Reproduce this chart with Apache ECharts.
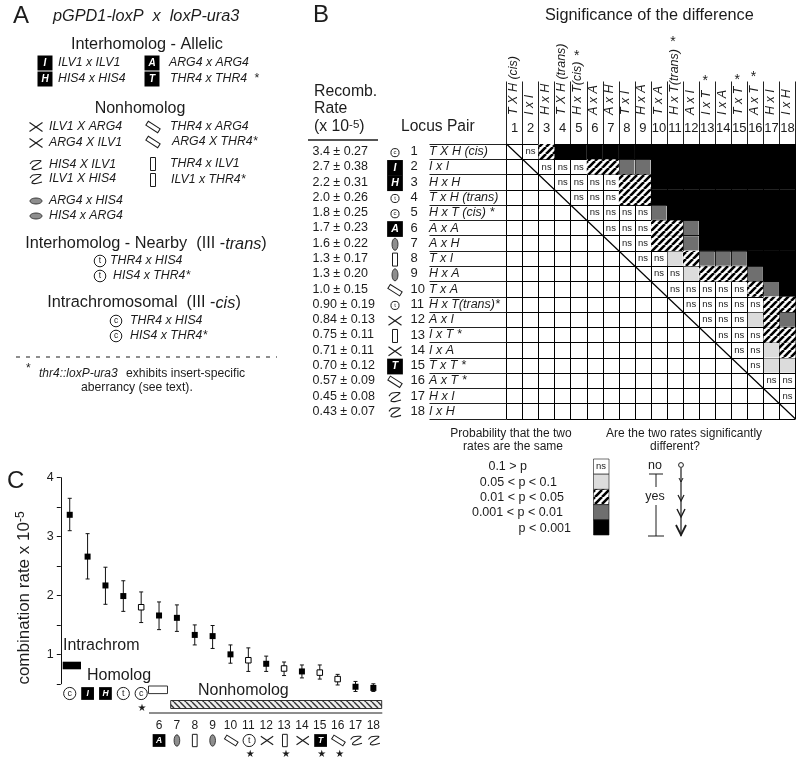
<!DOCTYPE html>
<html><head><meta charset="utf-8">
<style>html,body{margin:0;padding:0;background:#fff}#c{width:800px;height:762px}</style>
<script src="https://cdn.jsdelivr.net/npm/echarts@6/dist/echarts.min.js"></script>
</head><body><div id="c"></div>
<script>
// ---------- data ----------
const pairNumbers = ['1','2','3','4','5','6','7','8','9','10','11','12','13','14','15','16','17','18'];
const rowPairs = ['T X H (cis)','I x I','H x H','T x H (trans)','H x T (cis) *','A x A','A x H','T x I','H x A','T x A','H x T(trans)*','A x I','I x T *','I x A','T x T *','A x T *','H x I','I x H'];
const colPairs = ['T X H (cis)','I x I','H x H','T X H (trans)','H x T(cis)','A x A','A x H','T x I','H x A','T x A','H x T(trans)','A x I','I x T','I x A','T x T','A x T','H x I','I x H'];
const rateLabels = ['3.4 ± 0.27','2.7 ± 0.38','2.2 ± 0.31','2.0 ± 0.26','1.8 ± 0.25','1.7 ± 0.23','1.6 ± 0.22','1.3 ± 0.17','1.3 ± 0.20','1.0 ± 0.15','0.90 ± 0.19','0.84 ± 0.13','0.75 ± 0.11','0.71 ± 0.11','0.70 ± 0.12','0.57 ± 0.09','0.45 ± 0.08','0.43 ± 0.07'];
const pairIcons = ['c','I','H','t','c','A','ovalV','bar','ovalV','slant','t','x','bar','x','T','slant','z','z'];
const starredColumns = ['5','11','13','15','16'];
// upper triangle: n = ns, l = light, h = hatched, d = dark, b = black
const sigRows = [
 '.nhbbbbbbbbbbbbbbb',
 '..nnnhhddbbbbbbbbb',
 '...nnnnhhbbbbbbbbb',
 '....nnnhhbbbbbbbbb',
 '.....nnnndbbbbbbbb',
 '......nnnhhdbbbbbb',
 '.......nnhhdbbbbbb',
 '........nnlhdddbbb',
 '.........nnlhhhdbb',
 '..........nnnnnhdb',
 '...........nnnnnhh',
 '............nnnlhd',
 '.............nnnhh',
 '..............nnlh',
 '...............nll',
 '................nn',
 '.................n',
 '..................'
];
const rateMean = [3.37,2.66,2.17,1.99,1.80,1.66,1.62,1.33,1.31,1.00,0.90,0.84,0.76,0.71,0.69,0.58,0.45,0.43];
const rateHigh = [3.65,3.05,2.48,2.25,2.06,1.89,1.84,1.50,1.49,1.16,1.11,0.97,0.87,0.82,0.82,0.66,0.54,0.50];
const rateLow  = [3.10,2.28,1.85,1.73,1.54,1.42,1.39,1.16,1.10,0.85,0.71,0.71,0.64,0.60,0.58,0.48,0.37,0.37];
const openPoints = ['5','11','13','15','16'];
const unlabelledTicks = ['1','2','3','4','5'];
const lowerIcons = ['c','I','H','t','c','A','ovalV','bar','ovalV','slant','t','x','bar','x','T','slant','z','z'];
const starsBelow = ['11','13','15','16'];
const legendLabels = ['0.1 > p','0.05 < p < 0.1','0.01 < p < 0.05','0.001 < p < 0.01','p < 0.001'];
const legendLevels = ['n','l','h','d','b'];

// ---------- helpers ----------
const F='"Liberation Sans",Arial,sans-serif', INK='#1c1c1c';
function hatch(size,lw,color,back,dir){
  const c=document.createElement('canvas');c.width=c.height=size;const g=c.getContext('2d');
  g.fillStyle=back;g.fillRect(0,0,size,size);g.strokeStyle=color;g.lineWidth=lw;
  g.beginPath();
  for(let k=-1;k<=1;k++){
    if(dir>0){g.moveTo(k*size,size);g.lineTo(k*size+size,0);}
    else{g.moveTo(k*size,0);g.lineTo(k*size+size,size);}
  }
  g.stroke();return c;
}
const hatchFill={image:hatch(7,2.6,'#000','#fff',1),repeat:'repeat'};
const barFill={image:hatch(6,1.4,'#333','#eee',-1),repeat:'repeat'};
const levelFill={l:'#dcdcdc',h:hatchFill,d:'#6f6f6f',b:'#000'};

function T(text,x,y,size,o){o=o||{};
  return {type:'text',x,y,silent:true,z:o.z||20,rotation:o.rotation||0,style:Object.assign({text,fontSize:size,fontFamily:F,fontStyle:o.italic?'italic':'normal',fontWeight:o.bold?'bold':'normal',
    fill:o.fill||INK,align:o.align||'left',verticalAlign:'middle',textAlign:o.align||'left',textVerticalAlign:'middle'},o.style||{})};
}
function L(x1,y1,x2,y2,w,c,dash){return {type:'line',silent:true,z:15,shape:{x1,y1,x2,y2},style:{stroke:c||INK,lineWidth:w||1,lineDash:dash||null}};}
function icon(kind,x,y,s){s=s||1;let ch=[];
  const st={stroke:INK,lineWidth:1,fill:'#fff'};
  if(kind==='c'||kind==='t'){
    ch=[{type:'circle',shape:{cx:0,cy:0,r:5.8*s},style:st},T(kind,0,0,8.5*s,{align:'center',z:21})];
  }else if('IHAT'.includes(kind)){
    const w=15*s,h=15*s;
    ch=[{type:'rect',shape:{x:-w/2,y:-h/2,width:w,height:h},style:{fill:'#000'}},T(kind,0,0,10*s,{align:'center',italic:true,bold:true,fill:'#fff',z:21})];
  }else if(kind==='x'){
    ch=[{type:'line',shape:{x1:-6.5*s,y1:-4.5*s,x2:6.5*s,y2:4.5*s},style:{stroke:INK,lineWidth:1.1}},{type:'line',shape:{x1:-6.5*s,y1:4.5*s,x2:6.5*s,y2:-4.5*s},style:{stroke:INK,lineWidth:1.1}}];
  }else if(kind==='z'){
    ch=[{type:'polyline',shape:{points:[[-6*s,-1*s],[-3*s,-4*s],[5*s,-4*s],[-3*s,2*s],[-4*s,4*s],[0,4.5*s],[6*s,3*s]],smooth:0.3},style:{stroke:INK,lineWidth:1.1,fill:null}}];
  }else if(kind==='ovalH'||kind==='ovalV'){
    const h=kind==='ovalH';
    ch=[{type:'ellipse',shape:{cx:0,cy:0,rx:(h?6:3)*s,ry:(h?3:6)*s},style:{fill:'#8e8e8e',stroke:INK,lineWidth:.8}}];
  }else if(kind==='bar'){
    ch=[{type:'rect',shape:{x:-2.5*s,y:-6.5*s,width:5*s,height:13*s},style:st}];
  }else if(kind==='slant'){
    return {type:'group',x,y,rotation:-Math.PI*0.18,silent:true,z:20,children:[{type:'rect',shape:{x:-7*s,y:-2.3*s,width:14*s,height:4.6*s},style:st}]};
  }
  return {type:'group',x,y,silent:true,z:20,children:ch};
}

// ---------- geometry of the two charts ----------
const H={left:506.5,top:144,width:289,height:275};
const C={left:60.8,top:477.7,width:321.5,height:206.1};
const cw=H.width/18, rh=H.height/18;
const colX=i=>H.left+cw*(i+.5), rowY=i=>H.top+rh*(i+.5);
const ptX=i=>C.left+C.width/18*(i+.5);

// ---------- cells ----------
const cells=[];
sigRows.forEach((r,i)=>{for(let j=0;j<18;j++){const ch=r[j];if(ch&&ch!=='.')cells.push([j,i,ch]);}});

// ---------- decorative / text layer ----------
const g=[];
const BIG=16.3;
const rich={a:{fontSize:BIG,fontFamily:F,fill:INK},i:{fontSize:BIG,fontFamily:F,fontStyle:'italic',fill:INK}};
// Panel A
g.push(T('A',13,16,24));
g.push(T('pGPD1-loxP  x  loxP-ura3',53,16,16.3,{italic:true}));
g.push(T('Interhomolog - Allelic',147,45,BIG,{align:'center'}));
[['I',45,63,'ILV1 x ILV1',58],['H',45,79,'HIS4 x HIS4',58],['A',152,63,'ARG4 x ARG4',169],['T',152,79,'THR4 x THR4  *',170]].forEach(a=>{
  g.push(icon(a[0],a[1],a[2],1));g.push(T(a[3],a[4],a[2],12.3,{italic:true}));});
g.push(T('Nonhomolog',140,109,16,{align:'center'}));
[['x',36,127,'ILV1 X ARG4',49],['x',36,143,'ARG4 X ILV1',49],['slant',153,127,'THR4 x ARG4',170],['slant',153,142,'ARG4 X THR4*',172],
 ['z',36,165,'HIS4 X ILV1',49],['z',36,179,'ILV1 X HIS4',49],['bar',153,164,'THR4 x ILV1',170],['bar',153,180,'ILV1 x THR4*',171],
 ['ovalH',36,201,'ARG4 x HIS4',49],['ovalH',36,216,'HIS4 x ARG4',49],
 ['t',100,261,'THR4 x HIS4',110],['t',100,276,'HIS4 x THR4*',113],['c',116,321,'THR4 x HIS4',130],['c',116,336,'HIS4 x THR4*',130]].forEach(a=>{
  g.push(icon(a[0],a[1],a[2]));g.push(T(a[3],a[4],a[2],12.3,{italic:true}));});
g.push(T('{a|Interhomolog - Nearby  (III -}{i|trans}{a|)}',146,244,BIG,{align:'center',style:{rich}}));
g.push(T('{a|Intrachromosomal  (III -}{i|cis}{a|)}',144,303,BIG,{align:'center',style:{rich}}));
g.push(L(16,357,277,357,1,INK,[4,6]));
g.push(T('*',26,369,12));
g.push(T('thr4::loxP-ura3',39,374,12,{italic:true}));
g.push(T('exhibits insert-specific',126,374,12.2));
g.push(T('aberrancy (see text).',81,388,12.2));
// Panel B texts
g.push(T('B',313,15,24));
g.push(T('Significance of the difference',545,16,BIG));
g.push(T('Recomb.',314,92,15.8));
g.push(T('Rate',314,109,15.8));
g.push(T('{a|(x 10}{s|-5}{a|)}',314,127,15.8,{style:{rich:{a:{fontSize:15.8,fontFamily:F,fill:INK},s:{fontSize:11.5,fontFamily:F,fill:INK,verticalAlign:'top',lineHeight:16}}}}));
g.push(T('Locus Pair',401,127,15.6));
g.push(L(308,140,378,140,2,'#555'));
pairIcons.forEach((k,i)=>g.push(icon(k,395,rowY(i)+1,(k.length===1&&'IHAT'.includes(k))?1.05:(k==='c'||k==='t'?.7:1))));
colPairs.forEach((t,i)=>g.push(T(t,colX(i)-1,115,12.5,{italic:true,rotation:Math.PI/2})));
const starY={'5':56,'11':42,'13':81,'15':80,'16':77};
starredColumns.forEach(n=>{const i=pairNumbers.indexOf(n);g.push(T('*',colX(i)-2,starY[n],14,{align:'center'}));});
g.push(L(H.left,H.top,H.left+H.width,H.top+H.height,1.2,'#000'));
// Legend
g.push(T('Probability that the two',511,434,12,{align:'center'}));
g.push(T('rates are the same',513,447,12,{align:'center'}));
const legendRight=[527,557,564,563,571];
legendLabels.forEach((t,i)=>{
  const y=467+15.3*i;g.push(T(t,legendRight[i],y,12.5,{align:'right'}));
  const k=legendLevels[i];
  g.push({type:'rect',silent:true,z:14,shape:{x:593.5,y:459+15.2*i,width:15.5,height:15.2},style:{fill:k==='n'?'#fff':levelFill[k],stroke:'#111',lineWidth:.6}});
});
g.push(T('ns',601,466.5,9.5,{align:'center'}));
g.push(T('Are the two rates significantly',606,434,12));
g.push(T('different?',675,447,12,{align:'center'}));
g.push(T('no',655,466,12.5,{align:'center'}));
g.push(L(649,474,663,474));g.push(L(656,474,656,487));
g.push(T('yes',655,497,12.5,{align:'center'}));
g.push(L(656,505,656,536));g.push(L(648,536,664,536));
g.push({type:'circle',silent:true,z:15,shape:{cx:681,cy:465,r:2.4},style:{fill:'#fff',stroke:INK,lineWidth:1}});
g.push(L(681,468,681,536,1.2));
[[482,2,4,1],[501,3,6,1.2],[517,4,8,1.4],[535,5,10,1.8]].forEach(a=>{
  g.push({type:'polyline',silent:true,z:15,shape:{points:[[681-a[1],a[0]-a[2]],[681,a[0]],[681+a[1],a[0]-a[2]]]},style:{stroke:INK,lineWidth:a[3],fill:null}});});
// Panel C
g.push(T('C',7,481,24));
g.push(T('{a|combination rate x 10}{s|-5}',24,598,17,{rotation:Math.PI/2,align:'center',style:{rich:{a:{fontSize:17,fontFamily:F,fill:INK},s:{fontSize:12,fontFamily:F,fill:INK,verticalAlign:'top',lineHeight:18}}}}));
g.push(T('Intrachrom',63,646,16));
g.push({type:'rect',silent:true,z:15,shape:{x:62.7,y:661.7,width:18.3,height:7.6},style:{fill:'#000'}});
g.push(T('Homolog',87,676,16));
g.push({type:'rect',silent:true,z:15,shape:{x:148.5,y:686,width:19,height:7.6},style:{fill:'#fff',stroke:INK,lineWidth:.9}});
g.push(T('Nonhomolog',198,691,16));
g.push({type:'rect',silent:true,z:15,shape:{x:170.7,y:700.5,width:211,height:8},style:{fill:barFill,stroke:INK,lineWidth:.9}});
g.push(L(149,713,382.3,713,1));
g.push(T('★',142,708,10,{align:'center',style:{fontFamily:'"DejaVu Sans"'}}));
lowerIcons.forEach((k,i)=>{
  const up=i<5, big=k.length===1&&'IHAT'.includes(k);
  g.push(icon(k,ptX(i)+(i>8?0.8:0),up?693.5:740.5,big?(.85):(k==='c'||k==='t'?1.05:.95)));
});
starsBelow.forEach(n=>{const i=pairNumbers.indexOf(n);g.push(T('★',ptX(i)+2,754.5,10,{align:'center',style:{fontFamily:'"DejaVu Sans"'}}));});

// ---------- option ----------
const option={
  animation:false,
  backgroundColor:'#fff',
  textStyle:{fontFamily:F},
  grid:[
    {left:H.left,top:H.top,width:H.width,height:H.height,containLabel:false,show:false},
    {left:C.left,top:C.top,width:C.width,height:C.height,containLabel:false,show:false}
  ],
  xAxis:[
    {gridIndex:0,type:'category',position:'top',data:pairNumbers,
     axisLine:{show:true,lineStyle:{color:'#000',width:1}},
     axisTick:{show:true,length:62.5,alignWithLabel:false,interval:0,lineStyle:{color:'#222',width:1}},
     axisLabel:{interval:0,margin:9,fontSize:13,color:INK,fontFamily:F,hideOverlap:false},
     splitLine:{show:true,interval:0,lineStyle:{color:'#000',width:1}}},
    {gridIndex:1,type:'category',position:'bottom',offset:36,data:pairNumbers,
     axisLine:{show:false},axisTick:{show:false},
     axisLabel:{interval:0,margin:6,fontSize:12,color:INK,fontFamily:F,verticalAlign:'middle',hideOverlap:false,
       formatter:v=>unlabelledTicks.includes(v)?'':v},
     splitLine:{show:false}}
  ],
  yAxis:[
    {gridIndex:0,type:'category',inverse:true,position:'left',data:pairNumbers,
     axisLine:{show:true,lineStyle:{color:'#000',width:1}},
     axisTick:{show:true,length:77,alignWithLabel:false,interval:0,lineStyle:{color:'#222',width:1}},
     axisLabel:{interval:0,margin:96,align:'left',fontSize:13,color:INK,fontFamily:F,hideOverlap:false,padding:[2,0,0,0]},
     splitLine:{show:true,interval:0,lineStyle:{color:'#000',width:1}}},
    {gridIndex:0,type:'category',inverse:true,position:'left',data:rowPairs,
     axisLine:{show:false},axisTick:{show:false},
     axisLabel:{interval:0,margin:77.5,align:'left',fontSize:12.5,color:INK,fontFamily:F,fontStyle:'italic',hideOverlap:false,padding:[3,0,0,0]},
     splitLine:{show:false}},
    {gridIndex:0,type:'category',inverse:true,position:'left',data:rateLabels,
     axisLine:{show:false},axisTick:{show:false},
     axisLabel:{interval:0,margin:194,align:'left',fontSize:12.5,color:INK,fontFamily:F,hideOverlap:false},
     splitLine:{show:false}},
    {gridIndex:1,type:'value',min:0.5,max:4,interval:0.5,position:'left',
     axisLine:{show:true,onZero:false,lineStyle:{color:'#111',width:1}},
     axisTick:{show:true,length:4,lineStyle:{color:'#111'}},
     axisLabel:{margin:7,fontSize:12.5,color:INK,fontFamily:F,formatter:v=>Number.isInteger(v)?String(v):''},
     splitLine:{show:false}}
  ],
  series:[
    {type:'custom',xAxisIndex:0,yAxisIndex:0,coordinateSystem:'cartesian2d',clip:false,z:3,
     encode:{x:0,y:1},data:cells,
     renderItem(params,api){
       const p=api.coord([api.value(0),api.value(1)]),s=api.size([1,1]),k=cells[params.dataIndex][2];
       if(k==='n')return {type:'text',style:{text:'ns',x:p[0],y:p[1],align:'center',verticalAlign:'middle',fontSize:9.5,fontFamily:F,fill:INK}};
       const inset=(k==='l'||k==='d')?.5:0;
       return {type:'rect',shape:{x:p[0]-s[0]/2+inset,y:p[1]-s[1]/2+inset,width:s[0]-2*inset,height:s[1]-2*inset},style:{fill:levelFill[k]}};
     }},
    {type:'custom',xAxisIndex:1,yAxisIndex:3,coordinateSystem:'cartesian2d',z:3,clip:false,
     encode:{x:0,y:[1,2]},data:rateMean.map((m,i)=>[i,rateLow[i],rateHigh[i]]),
     renderItem(params,api){
       const lo=api.coord([api.value(0),api.value(1)]),hi=api.coord([api.value(0),api.value(2)]);
       const st={stroke:'#111',lineWidth:1};
       return {type:'group',children:[
         {type:'line',shape:{x1:lo[0],y1:lo[1],x2:hi[0],y2:hi[1]},style:st},
         {type:'line',shape:{x1:lo[0]-2,y1:lo[1],x2:lo[0]+2,y2:lo[1]},style:st},
         {type:'line',shape:{x1:hi[0]-2,y1:hi[1],x2:hi[0]+2,y2:hi[1]},style:st}]};
     }},
    {type:'scatter',xAxisIndex:1,yAxisIndex:3,symbol:'rect',symbolSize:6,z:5,clip:false,
     data:rateMean.map((m,i)=>openPoints.includes(pairNumbers[i])?null:[i,m]).filter(Boolean),
     itemStyle:{color:'#000',opacity:1}},
    {type:'scatter',xAxisIndex:1,yAxisIndex:3,symbol:'rect',symbolSize:5.5,z:5,clip:false,
     data:rateMean.map((m,i)=>openPoints.includes(pairNumbers[i])?[i,m]:null).filter(Boolean),
     itemStyle:{color:'#fff',borderColor:'#000',borderWidth:1,opacity:1}}
  ],
  graphic:{elements:g}
};
const chart=echarts.init(document.getElementById('c'),null,{renderer:'canvas'});
chart.setOption(option);
</script></body></html>
